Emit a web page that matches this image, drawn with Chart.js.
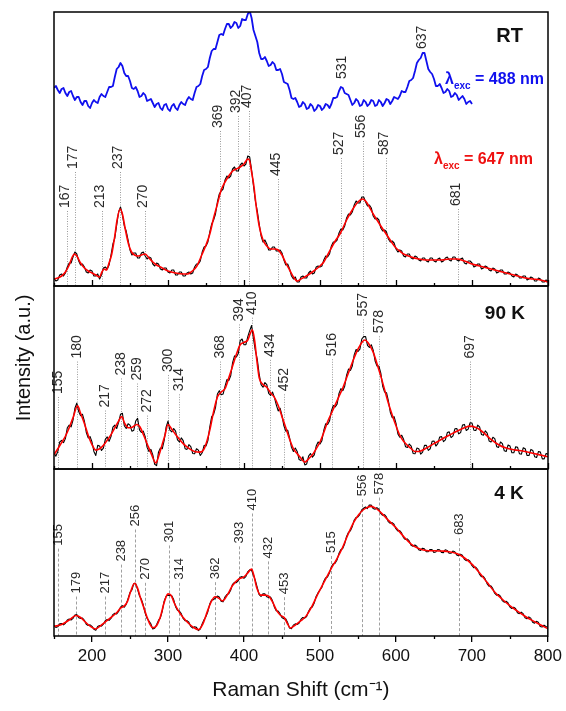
<!DOCTYPE html>
<html>
<head>
<meta charset="utf-8">
<style>
html,body{margin:0;padding:0;background:#fff;}
#wrap{position:relative;width:566px;height:711px;overflow:hidden;}
#wrap canvas{position:absolute;left:0;top:0;}
</style>
<script src="https://cdn.jsdelivr.net/npm/chart.js@4.4.1/dist/chart.umd.min.js"></script>
</head>
<body>
<div id="wrap">
<canvas id="cRT" width="566" height="711"></canvas>
<canvas id="c90" width="566" height="711"></canvas>
<canvas id="c4" width="566" height="711"></canvas>
</div>
<script>
// ---------------- DATA ----------------
// x grids (Raman shift, cm-1) of the raw (noisy) spectra
const gridX = [150,155,160,165,170,175,180,185,190,195,200,205,210,215,220,225,230,235,240,245,
250,255,260,265,270,275,280,285,290,295,300,305,310,315,320,325,330,335,340,345,
350,355,360,365,370,375,380,385,390,395,400,405,410,415,420,425,430,435,440,445,
450,455,460,465,470,475,480,485,490,495,500,505,510,515,520,525,530,535,540,545,
550,555,560,565,570,575,580,585,590,595,600,605,610,615,620,625,630,635,640,645,
650,655,660,665,670,675,680,685,690,695,700,705,710,715,720,725,730,735,740,745,
750,755,760,765,770,775,780,785,790,795,800];
const halfX = [152.5,157.5,162.5,167.5,172.5,177.5,182.5,187.5,192.5,197.5,
202.5,207.5,212.5,217.5,222.5,227.5,232.5,237.5,242.5,247.5,
252.5,257.5,262.5,267.5,272.5,277.5,282.5,287.5,292.5,297.5,
302.5,307.5,312.5,317.5,322.5,327.5,332.5,337.5,342.5,347.5,
352.5,357.5,362.5,367.5,372.5,377.5,382.5,387.5,392.5,397.5,
402.5,407.5,412.5,417.5,422.5,427.5,432.5,437.5,442.5,447.5,
452.5,457.5,462.5,467.5,472.5,477.5,482.5,487.5,492.5,497.5,
502.5,507.5,512.5,517.5,522.5,527.5,532.5,537.5,542.5,547.5,
552.5,557.5,562.5,567.5,572.5,577.5,582.5,587.5,592.5,597.5,
602.5,607.5,612.5,617.5,622.5,627.5,632.5,637.5,642.5,647.5,
652.5,657.5,662.5,667.5,672.5,677.5,682.5,687.5,692.5,697.5,
702.5,707.5,712.5,717.5,722.5,727.5,732.5,737.5,742.5,747.5,
752.5,757.5,762.5,767.5,772.5,777.5,782.5,787.5,792.5,797.5];

// RT, 488 nm excitation (blue, 150-700 cm-1): values on gridX and on halfX
const rt488 = [198,196,197,193,194,190,189,184,185,180,
183,184,189,190,194,199,209,219,220,210,
205,197,195,190,191,186,183,182,178,181,
177,180,178,181,182,186,187,193,200,210,
217,228,237,244,252,257,262,260,263,260,
266,272,268,250,233,227,225,221,222,216,
212,203,196,187,184,180,182,178,180,177,
180,178,181,182,188,195,198,192,186,183,
185,181,184,182,185,181,184,183,186,185,
188,190,194,199,206,215,226,233,225,214,
207,200,198,194,195,190,191,188,187,184,
182];
const rt488Half = [200,193,198,190,195,186,189,181,185,178,
186,183,192,189,199,200,217,223,213,210,
198,199,189,193,185,187,179,183,176,182,
175,182,176,184,181,189,186,199,202,216,
219,235,237,251,251,262,258,264,258,267,
266,275,256,244,227,229,220,224,216,217,
204,202,188,188,179,184,177,182,175,181,
176,182,178,188,189,199,193,191,181,187,
180,186,180,186,180,186,180,187,182,189,
187,195,194,205,208,223,228,233,217,212,
200,202,193,197,189,193,186,190,182,185];

// RT, 647 nm excitation, measured (black)
const rt647 = [8,6,12,13,23,29,32,21,19,13,
15,10,7,18,17,31,48,74,71,55,
36,33,28,33,30,29,22,23,17,18,
14,16,11,14,10,13,12,19,22,34,
40,54,66,84,95,106,108,117,115,121,
120,130,116,85,62,44,42,36,39,35,
33,21,17,7,4,9,8,13,12,19,
19,26,29,40,44,53,56,68,71,81,
83,89,84,81,70,68,58,56,47,45,
37,36,30,32,28,30,26,28,25,28,
25,27,24,28,26,29,26,27,23,25,
23,20,22,18,19,15,17,14,16,12,
13,9,11,8,10,7,8,5,7,4,
5];
const rt647Half = [5,11,10,19,23,34,25,22,14,16,
10,12,11,19,21,42,61,79,60,46,
31,33,28,34,27,28,20,22,16,18,
13,16,11,14,10,14,13,22,25,39,
44,62,72,92,97,110,110,119,115,123,
122,129,100,75,50,46,36,39,35,36,
26,22,10,9,4,10,8,15,13,20,
20,30,32,44,46,57,60,72,74,85,
83,89,80,78,67,66,55,54,44,43,
34,35,29,32,27,29,25,28,24,28,
24,28,25,29,25,29,25,28,22,25,
19,22,17,20,16,18,13,16,12,14,
10,12,8,10,6,9,5,8,4,6];

// RT, 647 nm excitation, fit (red) [shift, intensity]
const rt647Fit = [[150,7],[155,8],[160,10],[165,14],[170,21],[174,29],[177,32],[180,30],[185,23],[190,18],[195,15],[200,13],[205,11],[210,9],[213,14],[216,17],[219,16],[222,22],[226,32],[230,50],[233,66],[237,77],[240,72],[244,56],[248,42],[252,34],[256,31],[260,30],[265,31],[270,32],[275,28],[280,24],[285,21],[290,19],[300,15],[310,13],[320,12],[326,12],[332,15],[338,20],[345,32],[350,41],[355,52],[360,68],[365,82],[370,96],[375,104],[380,110],[385,115],[390,117],[395,119],[400,122],[405,127],[407,126],[410,114],[413,100],[416,80],[420,60],[425,46],[430,40],[435,37],[440,37],[445,36],[450,31],[455,23],[460,16],[465,9],[470,5],[475,7],[480,9],[490,14],[500,20],[505,24],[510,31],[520,45],[527,53],[535,66],[540,73],[545,79],[550,84],[556,87],[560,85],[565,79],[570,72],[575,66],[580,60],[587,52],[595,43],[600,38],[605,35],[610,32],[620,29],[630,27],[640,26],[650,26],[660,26],[670,27],[680,27],[690,25],[700,22],[710,20],[720,18],[730,16],[740,14],[750,12],[760,10],[770,8],[780,7],[790,6],[800,4]];

// 90 K measured (black)
const k90 = [48,52,85,90,130,145,195,158,142,92,
80,40,68,62,95,96,130,138,165,120,
130,115,150,108,96,52,42,10,62,85,
142,110,112,80,84,58,66,45,56,48,
68,125,162,222,220,245,262,315,332,380,
368,392,425,350,280,242,250,218,212,172,
158,112,92,52,52,25,12,38,35,68,
74,115,132,172,184,224,232,278,292,338,
348,385,392,360,352,305,284,228,202,152,
135,94,88,64,68,45,60,50,70,60,
83,75,96,86,110,98,120,108,132,118,
136,114,125,100,106,80,90,64,75,52,
68,48,64,44,60,40,55,34,50,30,
44];
const k90Half = [38,80,78,122,125,180,170,162,108,96,
52,70,55,88,82,124,120,162,128,134,
112,142,116,112,64,58,14,50,60,124,
115,120,86,92,60,72,46,60,40,70,
84,155,182,232,222,265,276,335,342,385,
368,410,385,325,250,256,224,228,190,180,
128,115,64,62,28,36,15,46,42,80,
84,134,142,188,192,238,245,296,305,354,
355,392,366,368,320,305,245,226,168,155,
104,100,66,74,46,62,44,70,55,82,
68,95,81,108,93,119,104,130,114,137,
115,130,102,113,83,94,66,80,54,71,
48,66,45,63,40,58,36,52,30,46];

// 90 K fit (red)
const k90Fit = [[150,42],[155,60],[160,78],[165,97],[170,122],[175,152],[181,187],[185,165],[190,135],[195,100],[200,72],[205,56],[210,60],[215,70],[220,85],[225,102],[230,122],[235,142],[239,155],[243,135],[248,122],[253,124],[259,132],[263,125],[268,100],[273,72],[278,45],[284,18],[288,40],[292,70],[296,100],[300,132],[305,118],[310,102],[315,88],[320,75],[327,62],[335,52],[342,50],[348,62],[355,115],[360,170],[365,213],[370,228],[375,238],[380,270],[385,305],[390,340],[395,368],[400,375],[405,382],[408,400],[411,412],[414,380],[417,320],[420,270],[425,250],[430,242],[435,225],[440,212],[445,188],[450,155],[455,122],[460,88],[465,60],[470,45],[475,32],[480,20],[485,30],[490,42],[495,60],[500,80],[505,108],[510,140],[515,165],[520,190],[525,215],[530,240],[535,270],[540,300],[545,330],[550,355],[555,375],[559,382],[563,375],[567,360],[571,340],[575,312],[580,275],[585,235],[590,195],[595,160],[600,128],[605,100],[610,82],[615,70],[620,60],[625,52],[630,52],[640,62],[650,75],[660,88],[670,100],[680,112],[690,122],[697,127],[705,123],[710,117],[718,102],[725,88],[735,72],[745,62],[755,57],[770,52],[785,44],[800,36]];

// 4 K measured (black)
const k4 = [33,29,39,40,53,55,67,55,49,33,
30,18,33,37,52,55,71,77,95,99,
136,164,146,115,72,47,22,35,57,109,
128,126,92,78,55,48,30,29,17,38,
61,100,114,125,109,122,132,162,167,184,
181,201,206,174,130,132,123,122,91,78,
58,54,25,34,36,52,56,77,91,124,
144,171,185,216,228,258,274,311,329,362,
373,395,404,410,399,402,384,380,358,355,
336,330,308,304,284,285,270,275,264,271,
262,271,262,270,259,266,254,256,241,239,
221,216,194,187,164,157,134,130,111,109,
91,90,73,75,57,60,43,46,30,34,
27];
const k4Half = [27,38,35,50,50,66,57,56,37,35,
21,30,31,48,49,67,69,90,90,117,
144,164,126,97,55,38,24,49,78,124,
127,114,81,70,48,43,25,27,22,51,
76,113,119,122,107,130,143,168,173,186,
186,207,191,152,124,132,121,111,79,70,
54,42,23,38,40,58,61,88,103,135,
152,182,197,226,238,270,288,324,342,371,
380,400,399,410,397,397,378,373,353,350,
329,323,302,298,281,281,268,273,264,271,
263,270,261,268,259,264,251,253,236,234,
214,209,186,179,156,149,128,125,106,104,
86,86,70,70,54,56,40,43,28,30];

// 4 K fit (red)
const k4Fit = [[150,30],[160,36],[170,50],[179,64],[185,58],[192,42],[198,30],[205,22],[211,32],[217,43],[225,58],[232,72],[238,88],[243,95],[247,110],[251,140],[256,165],[260,150],[264,118],[268,90],[272,62],[276,38],[280,26],[285,32],[290,60],[295,105],[300,132],[304,128],[308,105],[314,78],[320,58],[327,40],[333,28],[340,20],[346,38],[352,78],[357,108],[362,123],[367,118],[372,110],[378,128],[385,158],[393,178],[400,185],[406,200],[410,210],[413,190],[417,150],[422,128],[428,128],[433,124],[438,105],[443,80],[448,65],[453,58],[457,40],[461,25],[468,35],[475,48],[482,63],[490,95],[497,130],[503,158],[509,185],[515,212],[522,240],[530,278],[537,318],[545,358],[551,380],[556,393],[562,402],[567,406],[572,402],[578,392],[585,375],[592,358],[600,340],[610,312],[620,288],[630,274],[640,268],[650,267],[660,266],[670,264],[680,258],[690,245],[700,225],[710,198],[720,168],[730,138],[740,115],[750,95],[760,78],[770,62],[780,48],[790,35],[800,23]];

// Peak labels: positions (cm-1) and the intensity level where each label starts
const rtPeaks = [167,177,213,237,270,369,392,407,445,527,556,587,681];
const rtPeakLevels = [78,117,78,117,78,158,173,178,110,131,148,131,80];
const rt488Peaks = [531,637];
const rt488PeakLevels = [207,237];
const k90Peaks = [155,180,217,238,259,272,300,314,368,394,410,434,452,516,557,578,697];
const k90PeakLevels = [222,327,182,277,262,167,287,230,327,437,457,332,230,334,452,402,327];
const k4Peaks = [155,179,217,238,256,270,301,314,362,393,410,432,453,515,556,578,683];
const k4PeakLevels = [283,133,133,233,343,176,293,176,178,290,393,243,131,260,438,443,316];

// Axis ticks and texts
const majorTicks = [200,300,400,500,600,700,800];
const minorTicks = [150,250,350,450,550,650,750];
const xTitle = 'Raman Shift (cm\u207B\u00B9)';
const yTitle = 'Intensity (a.u.)';
const panelNames = ['RT','90 K','4 K'];
const excLabels = [['\u03BB','exc',' = 488 nm'],['\u03BB','exc',' = 647 nm']];

// ---------------- CHART SETUP ----------------
const FONT = "'Liberation Sans', Arial, Helvetica, sans-serif";
Chart.defaults.font.family = FONT;
Chart.defaults.color = '#111';
Chart.defaults.animation = false;
Chart.defaults.events = [];
Chart.defaults.plugins.legend.display = false;
Chart.defaults.plugins.tooltip.enabled = false;

const zip = (xs, ys) => ys.map((v, i) => ({x: xs[i], y: v}));
const pairs = arr => arr.map(p => ({x: p[0], y: p[1]}));
const merged = (xa, ya, xb, yb) => zip(xa, ya).concat(zip(xb, yb)).sort((p, q) => p.x - q.x);

const decor = {
  id: 'decor',
  beforeDatasetsDraw(chart, args, o) {
    const {ctx, chartArea: a, scales: {x, y}} = chart;
    (o.peakSets || []).forEach(set => {
      if (!set.line) return;
      ctx.save();
      ctx.strokeStyle = set.lineColor;
      ctx.lineWidth = 1;
      ctx.setLineDash(set.dash);
      set.pos.forEach((p, i) => {
        const px = Math.round(x.getPixelForValue(p)) + 0.5;
        const py = y.getPixelForValue(set.levels[i]) + set.gap;
        ctx.beginPath(); ctx.moveTo(px, py); ctx.lineTo(px, a.bottom); ctx.stroke();
      });
      ctx.restore();
    });
  },
  afterDatasetsDraw(chart, args, o) {
    const {ctx, chartArea: a, scales: {x, y}} = chart;
    (o.peakSets || []).forEach(set => {
      set.pos.forEach((p, i) => {
        const px = Math.round(x.getPixelForValue(p)) + 0.5 + (set.shift || 0);
        const py = y.getPixelForValue(set.levels[i]);
        ctx.save();
        ctx.translate(px, py);
        ctx.rotate(-Math.PI / 2);
        ctx.font = set.font;
        ctx.fillStyle = set.color;
        ctx.textAlign = 'left';
        ctx.textBaseline = set.baseline;
        ctx.fillText(String(p), 0, 0);
        ctx.restore();
      });
    });
    ctx.save();
    ctx.strokeStyle = '#000';
    ctx.lineWidth = 1.5;
    ctx.strokeRect(a.left, a.top, a.right - a.left, a.bottom - a.top);
    ctx.lineWidth = 1.3;
    const tick = (v, len) => {
      const px = Math.round(x.getPixelForValue(v)) + 0.5;
      ctx.beginPath(); ctx.moveTo(px, a.bottom); ctx.lineTo(px, a.bottom + len); ctx.stroke();
    };
    if (o.inwardTicks) {
      majorTicks.forEach(v => tick(v, -6));
      minorTicks.forEach(v => tick(v, -3));
    }
    if (o.outMinor) minorTicks.forEach(v => tick(v, 3));
    ctx.restore();
    (o.texts || []).forEach(t => {
      ctx.save();
      ctx.fillStyle = t.color;
      ctx.textBaseline = 'alphabetic';
      const parts = t.parts;
      const widths = parts.map(pt => { ctx.font = pt.font; return ctx.measureText(pt.text).width; });
      const total = widths.reduce((s, w) => s + w, 0);
      let cx = a.right - t.dx - total;
      const base = a.top + t.dy;
      parts.forEach((pt, i) => {
        ctx.font = pt.font;
        ctx.textAlign = 'left';
        ctx.fillText(pt.text, cx, base + (pt.sub || 0));
        cx += widths[i];
      });
      ctx.restore();
    });
    if (o.yTitle) {
      ctx.save();
      ctx.translate(o.yTitle.x, o.yTitle.y);
      ctx.rotate(-Math.PI / 2);
      ctx.font = '20px ' + FONT;
      ctx.fillStyle = '#111';
      ctx.textAlign = 'center';
      ctx.textBaseline = 'middle';
      ctx.fillText(o.yTitle.text, 0, 0);
      ctx.restore();
    }
  }
};
Chart.register(decor);

const lineDs = (data, color, width, order, smooth) => ({
  data, borderColor: color, borderWidth: width, pointRadius: 0, fill: false,
  order, tension: 0, cubicInterpolationMode: smooth ? 'monotone' : 'default',
  borderJoinStyle: 'round'
});

const hiddenX = {type: 'linear', min: 150, max: 800, display: false};
const PAD_L = 54, PAD_R = 18;
const bold = s => 'bold ' + s + 'px ' + FONT;
const excParts = (lbl) => [
  {text: lbl[0], font: bold(16)},
  {text: lbl[1], font: bold(10), sub: 5},
  {text: lbl[2], font: bold(16)}
];

// Panel RT
new Chart(document.getElementById('cRT'), {
  type: 'line',
  data: {datasets: [
    lineDs(pairs(rt647Fit), '#ff0000', 1.6, 0, true),
    lineDs(merged(gridX, rt647, halfX, rt647Half), '#000000', 1.1, 1, false),
    lineDs(merged(gridX, rt488, halfX, rt488Half), '#1010ee', 1.8, 2, false)
  ]},
  options: {
    responsive: false, devicePixelRatio: 1,
    layout: {padding: {left: PAD_L, right: PAD_R, top: 12, bottom: 711 - 286}},
    scales: {x: hiddenX, y: {min: 0, max: 274, display: false}},
    plugins: {decor: {
      inwardTicks: true,
      peakSets: [
        {pos: rtPeaks, levels: rtPeakLevels, line: true, lineColor: '#9a9a9a', dash: [1, 1.5], gap: 3,
         font: '14px ' + FONT, color: '#2a2a2a', baseline: 'alphabetic', shift: 1},
        {pos: rt488Peaks, levels: rt488PeakLevels, line: false,
         font: '14px ' + FONT, color: '#2a2a2a', baseline: 'alphabetic', shift: 1}
      ],
      texts: [
        {parts: [{text: panelNames[0], font: bold(20)}], color: '#111', dx: 25, dy: 30},
        {parts: excParts(excLabels[0]), color: '#1010ee', dx: 4, dy: 72},
        {parts: excParts(excLabels[1]), color: '#ee1111', dx: 15, dy: 152}
      ]
    }}
  }
});

// Panel 90 K
new Chart(document.getElementById('c90'), {
  type: 'line',
  data: {datasets: [
    lineDs(pairs(k90Fit), '#ff0000', 1.6, 0, true),
    lineDs(merged(gridX, k90, halfX, k90Half), '#000000', 1.1, 1, false)
  ]},
  options: {
    responsive: false, devicePixelRatio: 1,
    layout: {padding: {left: PAD_L, right: PAD_R, top: 286, bottom: 711 - 469}},
    scales: {x: hiddenX, y: {min: 0, max: 542, display: false}},
    plugins: {decor: {
      inwardTicks: true,
      peakSets: [
        {pos: k90Peaks, levels: k90PeakLevels, line: true, lineColor: '#9a9a9a', dash: [1, 1.5], gap: 3,
         font: '14px ' + FONT, color: '#2a2a2a', baseline: 'middle', shift: 0}
      ],
      texts: [
        {parts: [{text: panelNames[1], font: bold(19)}], color: '#111', dx: 23, dy: 33}
      ],
      yTitle: {text: yTitle, x: 24, y: 358}
    }}
  }
});

// Panel 4 K (with the visible x axis)
new Chart(document.getElementById('c4'), {
  type: 'line',
  data: {datasets: [
    lineDs(pairs(k4Fit), '#ff0000', 1.6, 0, true),
    lineDs(merged(gridX, k4, halfX, k4Half), '#000000', 1.1, 1, false)
  ]},
  options: {
    responsive: false, devicePixelRatio: 1,
    layout: {padding: {left: PAD_L, right: PAD_R, top: 469, bottom: 0}},
    scales: {
      x: {
        type: 'linear', min: 150, max: 800, position: 'bottom',
        afterBuildTicks: s => { s.ticks = majorTicks.map(v => ({value: v})); },
        afterFit: s => { s.height = 75; },
        ticks: {font: {size: 17}, color: '#111', padding: 4, maxRotation: 0, autoSkip: false},
        grid: {display: true, drawOnChartArea: false, drawTicks: true, tickLength: 6, color: '#000', lineWidth: 1.3},
        border: {display: false},
        title: {display: true, text: xTitle, font: {size: 21}, color: '#111', padding: {top: 0, bottom: 8}}
      },
      y: {min: 0, max: 523, display: false}
    },
    plugins: {decor: {
      outMinor: true,
      peakSets: [
        {pos: k4Peaks, levels: k4PeakLevels, line: true, lineColor: '#a0a0a0', dash: [3, 2], gap: 3,
         font: '13px ' + FONT, color: '#2a2a2a', baseline: 'middle', shift: 0}
      ],
      texts: [
        {parts: [{text: panelNames[2], font: bold(19)}], color: '#111', dx: 24, dy: 30}
      ]
    }}
  }
});
</script>
</body>
</html>
